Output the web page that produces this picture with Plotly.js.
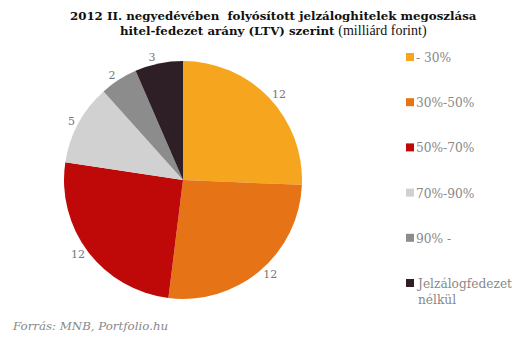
<!DOCTYPE html>
<html><head><meta charset="utf-8">
<script src="https://cdn.plot.ly/plotly-3.0.1.min.js"></script>
<style>html,body{margin:0;padding:0;background:#fff}</style>
</head><body>
<div id="chart" style="width:531px;height:342px"></div>
<script>
const categories = ["- 30%", "30%-50%", "50%-70%", "70%-90%", "90% -", "Jelzálogfedezet<br>nélkül"];
const values = [11.8, 12.1, 11.7, 5.05, 2.35, 3.0];
const colors = ["#F6A51E", "#E67315", "#BF0909", "#D1D1D1", "#8C8C8C", "#2D1F25"];

const W = 531, H = 342;
const cx = 183, cy = 180, R = 119;
const serif = 'DejaVu Serif, serif';

const trace = {
  type: 'pie',
  values: values,
  labels: categories,
  sort: false,
  direction: 'clockwise',
  rotation: 0,
  marker: {colors: colors, line: {width: 0}},
  textinfo: 'value',
  texttemplate: '%{value:.0f}',
  textposition: 'outside',
  outsidetextfont: {family: serif, size: 11, color: '#777'},
  hoverinfo: 'label+value',
  showlegend: false,
  automargin: false,
  domain: {x: [(cx - R) / W, (cx + R) / W], y: [(H - cy - R) / H, (H - cy + R) / H]}
};

const annotations = [
  {text: '<b>2012 II. negyedévében  folyósított jelzáloghitelek megoszlása</b><br><b>hitel-fedezet arány (LTV) szerint</b> <span style="font-family:Liberation Serif;font-size:14px">(milliárd forint)</span>',
   x: 274 / W, y: 1 - 7 / H, xref: 'paper', yref: 'paper', xanchor: 'center', yanchor: 'top',
   showarrow: false, font: {family: serif, size: 11.8, color: '#111'}},
  {text: '<i>Forrás: MNB, Portfolio.hu</i>', x: 10 / W, y: 1 - 326 / H, xref: 'paper', yref: 'paper',
   xanchor: 'left', yanchor: 'middle', showarrow: false,
   font: {family: serif, size: 11.8, color: '#888'}}
];
const shapes = [];
const legY0 = 57, legStep = 45.2;
categories.forEach((c, i) => {
  const y = legY0 + i * legStep;
  shapes.push({type: 'rect', xref: 'paper', yref: 'paper', x0: 406 / W, x1: 414 / W,
    y0: 1 - (y + 4) / H, y1: 1 - (y - 4) / H, fillcolor: colors[i], line: {width: 0}});
  annotations.push({text: c, x: 414 / W, y: 1 - (y - 8) / H, xref: 'paper', yref: 'paper',
    xanchor: 'left', yanchor: 'top', align: 'left', showarrow: false,
    font: {family: serif, size: 12.2, color: '#888'}});
});

Plotly.newPlot('chart', [trace], {
  width: W, height: H,
  margin: {l: 0, r: 0, t: 0, b: 0},
  paper_bgcolor: '#fff',
  annotations: annotations,
  shapes: shapes
}, {staticPlot: true});
</script>
</body></html>
